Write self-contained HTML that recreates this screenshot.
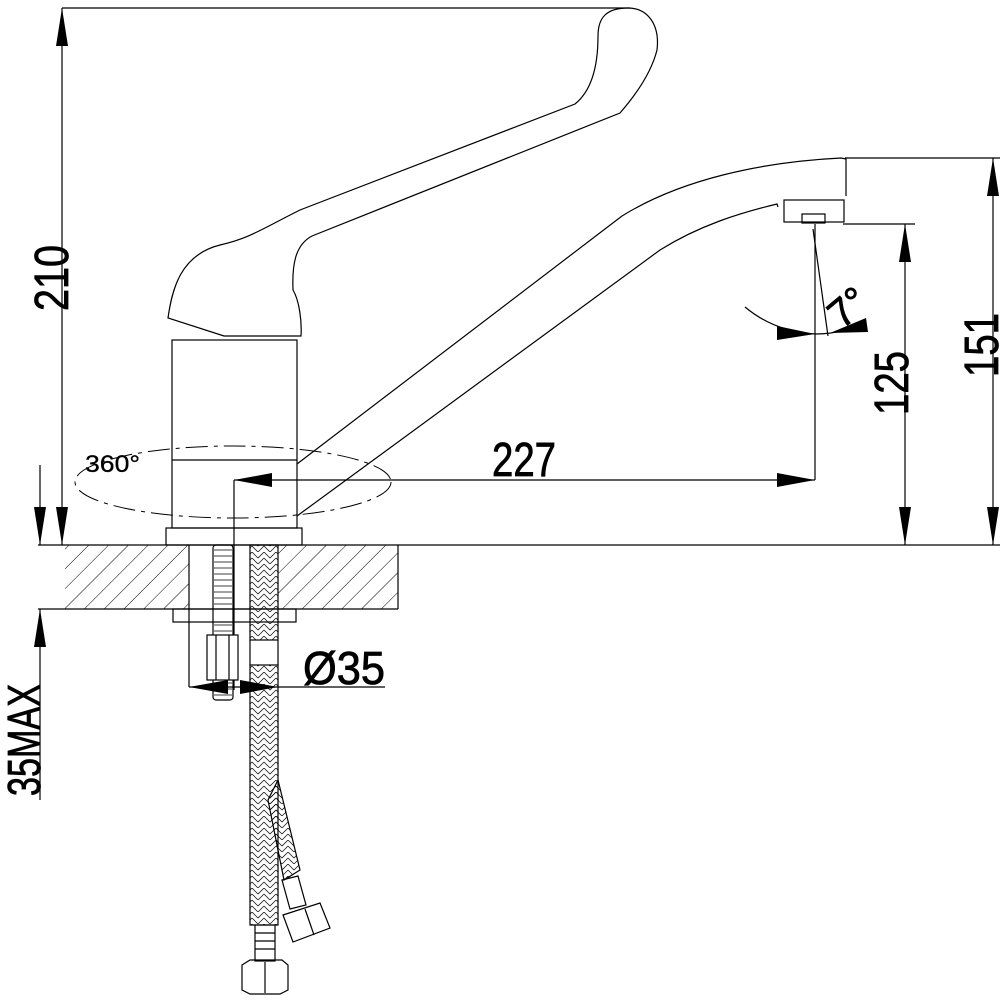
<!DOCTYPE html>
<html><head><meta charset="utf-8"><style>html,body{margin:0;padding:0;background:#fff}svg{display:block}text{font-family:"Liberation Sans",sans-serif;fill:#000;stroke:#000;stroke-width:0.8}</style></head><body>
<svg width="1000" height="1000" viewBox="0 0 1000 1000" xmlns="http://www.w3.org/2000/svg">
<defs>
<pattern id="h" width="14" height="14" patternUnits="userSpaceOnUse" patternTransform="rotate(45)">
<line x1="0" y1="0" x2="0" y2="14" stroke="#000" stroke-width="1"/></pattern>
<pattern id="b" width="12" height="12" patternUnits="userSpaceOnUse">
<path d="M0 0 L6 6 L12 0 M0 6 L6 12 L12 6" fill="none" stroke="#000" stroke-width="0.7"/></pattern>
</defs>
<g fill="none" stroke="#000" stroke-width="1.2">
<line x1="62" y1="8" x2="630" y2="8"/>
<line x1="62" y1="8" x2="62" y2="545"/>
<line x1="845" y1="158" x2="1000" y2="158"/>
<line x1="993" y1="158" x2="993" y2="545"/>
<line x1="843" y1="224" x2="915" y2="224"/>
<line x1="905" y1="224" x2="905" y2="545"/>
<line x1="38" y1="545" x2="1000" y2="545"/>
<line x1="38" y1="609" x2="398" y2="609"/>
<line x1="40" y1="465" x2="40" y2="545"/>
<line x1="40" y1="609" x2="40" y2="800"/>
<line x1="815" y1="224" x2="815" y2="480"/>
<line x1="813" y1="229" x2="828" y2="336"/>
<line x1="234" y1="480" x2="815" y2="480"/>
<line x1="234" y1="480" x2="234" y2="690"/>
<path d="M745 307 Q775 332 816 334 Q845 334 866 320"/>
<rect x="65" y="545" width="124" height="64" fill="url(#h)" stroke="none"/>
<rect x="278" y="545" width="120" height="64" fill="url(#h)" stroke="none"/>
<line x1="398" y1="545" x2="398" y2="609"/>
<line x1="189" y1="545" x2="189" y2="687"/>
<rect x="172" y="340" width="125" height="188"/>
<line x1="172" y1="460" x2="297" y2="460"/>
<rect x="166" y="528" width="136" height="17"/>
<path d="M168 318 C172 290 180 255 220 245 C250 238 260 230 300 210 L575 104 C590 92 598 70 598 36 C598 18 606 8 628 8 C648 8 660 25 657 50 C652 70 640 90 620 113 L312 236 C295 245 292 265 293 290 C299 300 302 320 301 336 L224 336 Z"/>
<path d="M297 464 L622 216 C680 180 760 162 841 158 L846 159 L846 196"/>
<path d="M297 516 L660 250 C700 225 740 213 777 204 L778 207"/>
<rect x="784" y="200" width="60" height="22"/>
<rect x="802" y="214" width="23" height="9"/>
<ellipse cx="233" cy="482" rx="158" ry="36" stroke-dasharray="22 6 4 6" stroke-width="1"/>
<rect x="173" y="609" width="123" height="13"/>
<rect x="213" y="545" width="20" height="155" rx="3"/>
<path d="M214 550 h18 M214 556 h18 M214 562 h18 M214 568 h18 M214 574 h18 M214 580 h18 M214 586 h18 M214 592 h18 M214 598 h18 M214 604 h18 M214 625 h18 M214 631 h18 M214 665 h18 M214 671 h18 M214 677 h18 M214 683 h18 M214 689 h18 M214 695 h18" stroke-width="0.8"/>
<rect x="207" y="635" width="31" height="45" fill="#fff"/>
<line x1="216" y1="635" x2="216" y2="680"/><line x1="229" y1="635" x2="229" y2="680"/>
<line x1="189" y1="687" x2="385" y2="687"/>
<path d="M278 780 L300 870 L284 880 L268 800 Z" fill="url(#b)"/>
<rect x="250" y="545" width="28" height="95" fill="url(#b)"/>
<rect x="250" y="665" width="28" height="260" fill="url(#b)"/>
<path d="M250 640 v25 M278 640 v25"/>
<rect x="255" y="925" width="20" height="36"/>
<path d="M255 933h20M255 941h20M255 949h20"/>
<path d="M242 965 L250 960 L282 960 L288 965 L288 990 L280 994 L250 994 L242 990 Z"/>
<line x1="265" y1="962" x2="265" y2="993"/>
<path d="M282 880 L298 876 L306 905 L290 909 Z"/>
<path d="M283 915 L320 903 L330 928 L293 942 Z"/><line x1="305" y1="909" x2="314" y2="935"/>
</g>
<g fill="#000">
<polygon points="62,8 56,46 68,46"/><polygon points="62,545 56,507 68,507"/>
<polygon points="993,158 987,196 999,196"/><polygon points="993,545 987,507 999,507"/>
<polygon points="905,224 899,262 911,262"/><polygon points="905,545 899,507 911,507"/>
<polygon points="40,545 34,507 46,507"/><polygon points="40,609 34,647 46,647"/>
<polygon points="234,480 272,473 272,487"/><polygon points="815,480 777,473 777,487"/>
<polygon points="815,334 777,326 777,340"/><polygon points="830,333 866,318 868,332"/>
<polygon points="189,687 228,680 228,694"/><polygon points="278,687 240,680 240,694"/>
</g>
<text x="0" y="0" font-size="48" textLength="66" lengthAdjust="spacingAndGlyphs" transform="translate(68,311) rotate(-90)">210</text>
<text x="0" y="0" font-size="48" textLength="64" lengthAdjust="spacingAndGlyphs" transform="translate(998,377) rotate(-90)">151</text>
<text x="0" y="0" font-size="48" textLength="64" lengthAdjust="spacingAndGlyphs" transform="translate(908,415) rotate(-90)">125</text>
<text x="0" y="0" font-size="46" textLength="112" lengthAdjust="spacingAndGlyphs" transform="translate(40,796) rotate(-90)">35MAX</text>
<text x="492" y="476" font-size="48" textLength="64" lengthAdjust="spacingAndGlyphs">227</text>
<text x="303" y="684" font-size="46" textLength="82" lengthAdjust="spacingAndGlyphs">Ø35</text>
<text x="85" y="472" font-size="24" textLength="55" lengthAdjust="spacingAndGlyphs" style="stroke-width:0.3">360°</text>
<text x="0" y="0" font-size="40" transform="translate(842,330) rotate(-40)">7°</text>
</svg>
</body></html>
